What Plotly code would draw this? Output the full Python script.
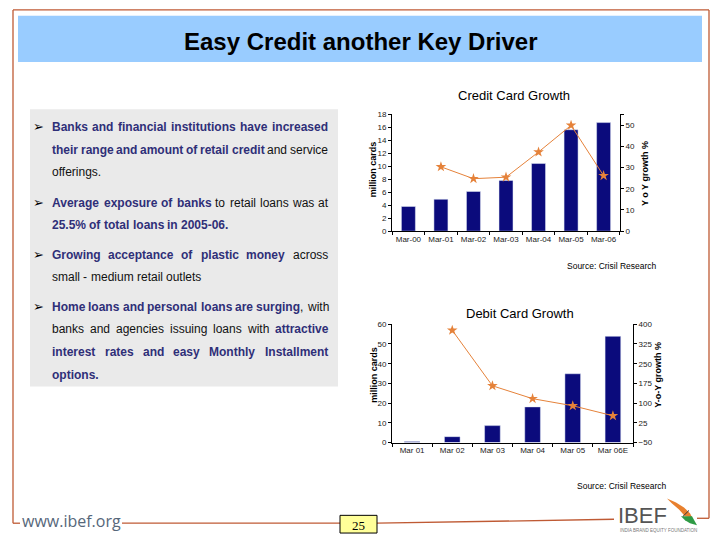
import plotly.graph_objects as go

# ---------------- data ----------------
credit_months = ["Mar-00", "Mar-01", "Mar-02", "Mar-03", "Mar-04", "Mar-05", "Mar-06"]
credit_cards = [3.8, 4.9, 6.1, 7.8, 10.4, 15.6, 16.7]
credit_growth = [None, 30.4, 24.8, 25.5, 37.4, 50.0, 26.2]
credit_left_ticks = [0, 2, 4, 6, 8, 10, 12, 14, 16, 18]
credit_right_ticks = [0, 10, 20, 30, 40, 50]

debit_months = ["Mar 01", "Mar 02", "Mar 03", "Mar 04", "Mar 05", "Mar 06E"]
debit_cards = [0.5, 3.0, 8.6, 18.1, 34.9, 53.9]
debit_growth = [None, 377, 166, 117, 90, 52]
debit_left_ticks = [0, 10, 20, 30, 40, 50, 60]
debit_right_ticks = [-50, 25, 100, 175, 250, 325, 400]

slide_title = "Easy Credit another Key Driver"
credit_title = "Credit Card Growth"
debit_title = "Debit Card Growth"
source_text = "Source: Crisil Research"
left_axis_title = "million cards"
credit_right_title = "Y o Y growth %"
debit_right_title = "Y-o-Y growth %"
page_number = "25"
site_text = "www.ibef.org"

# text block: (has_bullet, justified, segments[(text, bold)])
text_lines = [
    (True, True, [("Banks and financial institutions have increased", True)]),
    (False, True, [("their range and amount of retail credit", True), (" and service", False)]),
    (False, False, [("offerings.", False)]),
    (True, True, [("Average exposure of banks", True), (" to retail loans was at", False)]),
    (False, False, [("25.5% of total loans in 2005-06.", True)]),
    (True, True, [("Growing acceptance of plastic money", True), (" across", False)]),
    (False, False, [("small - medium retail outlets", False)]),
    (True, True, [("Home loans and personal loans are surging", True), (", with", False)]),
    (False, True, [("banks and agencies issuing loans with", False), (" attractive", True)]),
    (False, True, [("interest rates and easy Monthly Installment", True)]),
    (False, False, [("options.", True)]),
]
text_line_y = [125, 148, 171, 202, 225, 255, 278, 308, 331, 354, 377]

# ---------------- helpers ----------------
W, H = 720, 540
def X(px): return px / W
def Y(py): return 1 - py / H

FONT = "Liberation Sans, Arial, sans-serif"
BAR = "#0B0B7C"
ORANGE = "#E5823A"
BORDER = "#BF5A34"
NAVY = "#2F2F78"

REG = dict(zip("abcdefghijklmnopqrstuvwxyz",
               [556,556,500,556,556,278,556,556,222,222,500,222,833,556,556,556,556,333,500,278,556,500,722,500,500,500]))
REG.update(dict(zip("ABCDEFGHIJKLMNOPQRSTUVWXYZ",
               [667,667,722,722,667,611,778,722,278,500,667,556,833,722,778,667,778,722,667,611,722,667,944,667,667,611])))
REG.update({" ": 278, ",": 278, "-": 333, ".": 278, ":": 278, "%": 889})
BOLD = dict(zip("abcdefghijklmnopqrstuvwxyz",
               [556,611,556,611,556,333,611,611,278,278,556,278,889,611,611,611,611,389,556,333,611,556,778,556,556,500]))
BOLD.update(dict(zip("ABCDEFGHIJKLMNOPQRSTUVWXYZ",
               [722,722,722,722,667,611,778,722,278,556,722,611,833,722,778,667,778,722,667,611,722,667,944,667,667,611])))
BOLD.update({" ": 278, ",": 278, "-": 333, ".": 278, ":": 333, "%": 889})

def text_w(s, bold, size):
    t = BOLD if bold else REG
    return sum(t.get(c, 556) for c in s) * size / 1000.0

def words_of(segs):
    words, cur = [], []
    for text, b in segs:
        parts = text.split(" ")
        for i, p in enumerate(parts):
            if i > 0 and cur:
                words.append(cur)
                cur = []
            if p:
                cur.append((p, b))
    if cur:
        words.append(cur)
    return words

def seg_html(p, b):
    if b:
        return f"<b><span style='color:{NAVY}'>{p}</span></b>"
    return f"<span style='color:#111111'>{p}</span>"

fig = go.Figure()

# ---------------- charts ----------------
fig.add_trace(go.Bar(x=credit_months, y=credit_cards, marker_color=BAR, width=0.43,
                     xaxis="x", yaxis="y", showlegend=False))
fig.add_trace(go.Scatter(x=credit_months, y=credit_growth, mode="lines+markers",
                         line=dict(color=ORANGE, width=1),
                         marker=dict(symbol="star", size=8, color=ORANGE),
                         xaxis="x", yaxis="y2", showlegend=False))
fig.add_trace(go.Bar(x=debit_months, y=debit_cards, marker_color=BAR, width=0.39,
                     xaxis="x2", yaxis="y3", showlegend=False))
fig.add_trace(go.Scatter(x=debit_months, y=debit_growth, mode="lines+markers",
                         line=dict(color=ORANGE, width=1),
                         marker=dict(symbol="star", size=8, color=ORANGE),
                         xaxis="x2", yaxis="y4", showlegend=False))

ax_common = dict(showline=True, linecolor="#000000", linewidth=1, ticks="outside",
                 ticklen=3, tickcolor="#000000", showgrid=False, zeroline=False,
                 tickfont=dict(family=FONT, size=8, color="#222222"))

fig.update_layout(
    width=W, height=H, margin=dict(l=0, r=0, t=0, b=0),
    paper_bgcolor="white", plot_bgcolor="rgba(0,0,0,0)",
    xaxis=dict(domain=[X(392), X(620)], anchor="y", type="category",
               tickson="boundaries", tickangle=0, **ax_common),
    yaxis=dict(domain=[Y(231), Y(112)], range=[0, 18], tickvals=credit_left_ticks, **ax_common),
    yaxis2=dict(overlaying="y", side="right", anchor="x", range=[0, 55.3],
                tickvals=credit_right_ticks + [55.3],
                ticktext=[str(v) for v in credit_right_ticks] + [""], **ax_common),
    xaxis2=dict(domain=[X(392), X(633)], anchor="y3", type="category",
                tickson="boundaries", tickangle=0, **ax_common),
    yaxis3=dict(domain=[Y(446), Y(325.7)], range=[0, 60], tickvals=debit_left_ticks, **ax_common),
    yaxis4=dict(overlaying="y3", side="right", anchor="x2", range=[-50, 400],
                tickvals=debit_right_ticks, **ax_common),
)

shapes = []
def seg(x0, y0, x1, y1, color=BORDER, w=1.3):
    shapes.append(dict(type="line", xref="paper", yref="paper", x0=X(x0), y0=Y(y0),
                       x1=X(x1), y1=Y(y1), line=dict(color=color, width=w)))
seg(13, 6, 709, 6)
seg(13, 6, 13, 528)
seg(709, 6, 709, 523)
seg(13, 528, 20, 528)
seg(122, 528, 340, 528)
seg(377, 528, 614, 524)
seg(697, 523, 709, 523)
shapes.append(dict(type="rect", xref="paper", yref="paper", x0=X(18), x1=X(702),
                   y0=Y(59), y1=Y(12), fillcolor="#99CCFF", line=dict(width=0), layer="below"))
shapes.append(dict(type="rect", xref="paper", yref="paper", x0=X(30), x1=X(338),
                   y0=Y(389), y1=Y(107), fillcolor="#EAEAEA", line=dict(width=0), layer="below"))
shapes.append(dict(type="rect", xref="paper", yref="paper", x0=X(340), x1=X(377),
                   y0=Y(538), y1=Y(520), fillcolor="#FFFF99", line=dict(color="#000000", width=1)))
def poly(pts, color):
    path = "M " + " L ".join(f"{X(a):.5f},{Y(b):.5f}" for a, b in pts) + " Z"
    shapes.append(dict(type="path", xref="paper", yref="paper", path=path,
                       fillcolor=color, line=dict(width=0)))
poly([(667, 503), (676, 507), (684, 512), (690, 518), (692, 522), (685, 521), (679, 514), (672, 508)], "#E8802E")
poly([(681, 521), (692, 521), (697, 530), (690, 528), (685, 525)], "#2E9A45")
seg(683, 521, 689, 515, color="#333333", w=1)
fig.update_layout(shapes=shapes)

ann = []
def add_text(x, y, text, size, color="#000000", bold=False, xanchor="center", angle=0, family=FONT):
    if bold:
        text = f"<b>{text}</b>"
    ann.append(dict(x=X(x), y=Y(y), xref="paper", yref="paper", text=text, showarrow=False,
                    xanchor=xanchor, yanchor="middle", textangle=angle,
                    font=dict(family=family, size=size, color=color),
                    borderpad=0, borderwidth=0))

add_text(360, 38, slide_title, 24, bold=True)
add_text(514, 93, credit_title, 13)
add_text(520, 315, debit_title, 13)
add_text(612, 266, source_text, 8.5)
add_text(622, 490, source_text, 8.5)
add_text(373, 168, left_axis_title, 9, bold=True, angle=-90)
add_text(645, 173, credit_right_title, 9, bold=True, angle=-90)
add_text(374, 377, left_axis_title, 9, bold=True, angle=-90)
add_text(658, 377, debit_right_title, 9, bold=True, angle=-90)
add_text(358, 530, page_number, 13, family="Liberation Serif, Times New Roman, serif")
add_text(71, 526, site_text, 16, color="#56677A", family="Open Sans, Lato, sans-serif")
add_text(642, 520, "IBEF", 22, color="#555555")
add_text(658, 535, "INDIA BRAND EQUITY FOUNDATION", 4.5, color="#777777")

TS = 12
LEFT, RIGHT, BULLET_X = 52, 328, 38
for (bullet, just, segs), y in zip(text_lines, text_line_y):
    if bullet:
        add_text(BULLET_X, y, "➢", 13, xanchor="center", family="DejaVu Sans, sans-serif")
    words = words_of(segs)
    widths = [sum(text_w(p, b, TS) for p, b in wd) for wd in words]
    space = TS * 0.278
    if just and len(words) > 1:
        gap = (RIGHT - LEFT - sum(widths)) / (len(words) - 1)
    else:
        gap = space
    x = LEFT
    for wd, wdt in zip(words, widths):
        html = "".join(seg_html(p, b) for p, b in wd)
        ann.append(dict(x=X(x), y=Y(y), xref="paper", yref="paper", text=html, showarrow=False,
                        xanchor="left", yanchor="middle",
                        font=dict(family=FONT, size=TS, color="#111111"),
                        borderpad=0, borderwidth=0))
        x += wdt + gap

fig.update_layout(annotations=ann)
fig.write_html("out.html", config={"displayModeBar": False},
               post_script="document.body.style.margin='0';")
